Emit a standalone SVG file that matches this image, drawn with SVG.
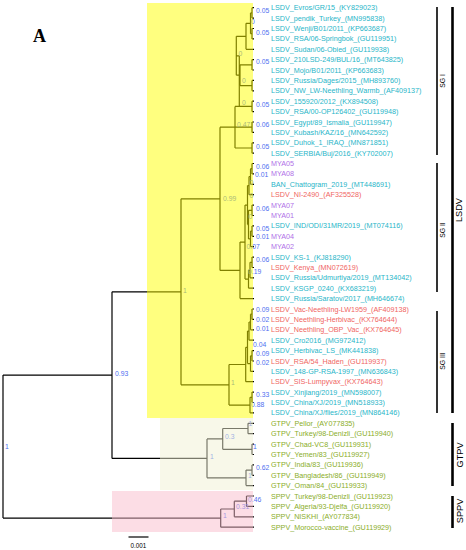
<svg xmlns="http://www.w3.org/2000/svg" width="466" height="550" viewBox="0 0 466 550">
<style>
text{font-family:"Liberation Sans",Arial,sans-serif}
.br{fill:none;stroke:#000;stroke-width:1.2}
.bs{font-size:6.8px;fill:#4f6ff0}
.lf{font-size:7.2px}
.c{fill:#27b5c8}.r{fill:#f0655f}.p{fill:#b070e8}.g{fill:#8aad28}
.bar{stroke:#000}
.cl{font-size:6.8px;fill:#000}
.cb{font-size:9.2px;fill:#000}
</style>
<rect width="466" height="550" fill="#fff"/>
<text x="33" y="42" font-weight="bold" font-size="18" style="font-family:'Liberation Serif',serif">A</text>
<g id="connectors">
<path class="br" d="M3 375.1V518.1M3 375.1H112M3 518.1H220.7
M112 291.8V458.4M112 291.8H181M112 458.4H207
M181 198.8V384.8M181 198.8H220M181 384.8H229
M220 127.2V270.4M220 127.2H235M220 270.4H240
M235 106.4V148M235 106.4H252M235 127.2H252M235 148H252
M239.3 55.8V106.4M236.3 55.8H239.3
M236.3 36.3V75.2M236.3 36.3H246M236.3 75.2H240
M240 64.8V85.6M240 64.8H252M240 85.6H252
M246 23.3V49.3M246 23.3H250.5M246 49.3H254
M250.5 12.9V33.7M250.5 12.9H252M250.5 33.7H252
M252 7.7V18.1M252 7.7H254M252 18.1H254
M252 28.5V38.9M252 28.5H254M252 38.9H254
M252 59.6V70M252 59.6H254M252 70H254
M252 80.4V90.8M252 80.4H254M252 90.8H254
M252 101.2V111.6M252 101.2H254M252 111.6H254
M252 122V132.4M252 122H254M252 132.4H254
M252 142.8V153.2M252 142.8H254M252 153.2H254
M240 242.1V298.6M240 242.1H245M240 298.6H254
M245 205.1V279.1M245 205.1H247.5M245 279.1H248.5
M247.5 185.6V224.6M247.5 185.6H249M247.5 224.6H248.5
M249 176.5V194.7M249 176.5H250.5M249 194.7H254
M250.5 168.7V184.3M250.5 168.7H252M250.5 184.3H254
M252 163.5V173.9M252 163.5H254M252 173.9H254
M248.5 210.3V238.9M248.5 210.3H252M248.5 238.9H250.5
M252 205.1V215.5M252 205.1H254M252 215.5H254
M250.5 231.1V246.7M250.5 231.1H252M250.5 246.7H254
M252 225.9V236.3M252 225.9H254M252 236.3H254
M248.5 270.05V288.2M248.5 270.05H250M248.5 288.2H254
M250 262.3V277.8M250 262.3H252M250 277.8H254
M252 257.1V267.5M252 257.1H254M252 267.5H254
M229 364.5V405.1M229 364.5H245.7M229 405.1H250
M245.7 347.35V381.7M245.7 347.35H247.5M245.7 381.7H254
M247.5 331.1V363.6M247.5 331.1H249M247.5 363.6H250.5
M249 322V340.2M249 322H250.5M249 340.2H254
M250.5 314.2V329.8M250.5 314.2H252M250.5 329.8H254
M252 309V319.4M252 309H254M252 319.4H254
M250.5 355.8V371.4M250.5 355.8H252M250.5 371.4H254
M252 350.6V361M252 350.6H254M252 361H254
M250 397.3V412.9M250 397.3H252M250 412.9H254
M252 392.1V402.5M252 392.1H254M252 402.5H254
M207 438.9V477.85M207 438.9H222.7M207 477.85H246
M222.7 428.5V449.3M222.7 428.5H248M222.7 449.3H252
M248 423.3V433.7M248 423.3H254M248 433.7H254
M252 444.1V454.5M252 444.1H254M252 454.5H254
M246 470.1V485.6M246 470.1H252M246 485.6H254
M252 464.9V475.3M252 464.9H254M252 475.3H254
M220.7 509V527.2M220.7 509H234.3M220.7 527.2H254
M234.3 501.2V516.8M234.3 501.2H246.5M234.3 516.8H254
M246.5 496V506.4M246.5 496H254M246.5 506.4H254"/>
</g>
<g id="support-values" class="bs">
<g id="n-root"><text x="5" y="448.5" class="bs">1</text></g>
<g id="n-093"><text x="115" y="375.5" class="bs">0.93</text></g>
<g id="n-lsdv"><text x="183" y="292.5" class="bs">1</text></g>
<g id="n-099"><text x="223" y="201" class="bs">0.99</text></g>
<g id="n-047"><text x="237" y="127" class="bs">0.47</text></g>
<g id="n-sg1a"><text x="238.5" y="55.5" class="bs">0</text></g>
<g id="n-sg1b"><text x="242" y="82.5" class="bs">0</text></g>
<g id="n-sg1c"><text x="242" y="104.5" class="bs">0</text></g>
<g id="n-sg1d"><text x="251" y="23.5" class="bs">0</text></g>
<g id="n-sg1e"><text x="256" y="13.4" class="bs">0.05</text></g>
<g id="n-sg1f"><text x="256" y="34.7" class="bs">0.05</text></g>
<g id="n-sg1g"><text x="256" y="64.4" class="bs">0.05</text></g>
<g id="n-sg1h"><text x="256" y="106.7" class="bs">0.05</text></g>
<g id="n-sg1i"><text x="256" y="127.4" class="bs">0.06</text></g>
<g id="n-sg1j"><text x="256" y="149.1" class="bs">0.05</text></g>
<g id="n-sg2a"><text x="256" y="169.4" class="bs">0.06</text></g>
<g id="n-sg2b"><text x="255" y="177" class="bs">0.01</text></g>
<g id="n-sg2c"><text x="249.5" y="185.1" class="bs">0</text></g>
<g id="n-sg2d"><text x="249.5" y="198.4" class="bs">0</text></g>
<g id="n-sg2e"><text x="256" y="210.7" class="bs">0.06</text></g>
<g id="n-sg2f"><text x="248.5" y="219.1" class="bs">0</text></g>
<g id="n-sg2g"><text x="256" y="230.7" class="bs">0.05</text></g>
<g id="n-sg2h"><text x="256" y="239.1" class="bs">0.01</text></g>
<g id="n-sg2i"><text x="246.5" y="249.1" class="bs">0.07</text></g>
<g id="n-sg2j"><text x="256" y="262.4" class="bs">0.06</text></g>
<g id="n-sg2k"><text x="248" y="274.1" class="bs">0.19</text></g>
<g id="n-sg3a"><text x="256" y="312.4" class="bs">0.09</text></g>
<g id="n-sg3b"><text x="256" y="321.7" class="bs">0.02</text></g>
<g id="n-sg3c"><text x="256" y="331.4" class="bs">0.01</text></g>
<g id="n-sg3d"><text x="253" y="347.4" class="bs">0.04</text></g>
<g id="n-sg3e"><text x="256" y="355.7" class="bs">0.09</text></g>
<g id="n-sg3f"><text x="256" y="364.7" class="bs">0.02</text></g>
<g id="n-sg3"><text x="231" y="385.4" class="bs">1</text></g>
<g id="n-sg3g"><text x="256" y="397.4" class="bs">0.33</text></g>
<g id="n-sg3h"><text x="251" y="407.4" class="bs">0.88</text></g>
<g id="n-gt1"><text x="248.5" y="425.7" class="bs">1</text></g>
<g id="n-gt2"><text x="225" y="439.4" class="bs">0.3</text></g>
<g id="n-gt3"><text x="253" y="449.1" class="bs">1</text></g>
<g id="n-gt4"><text x="210" y="459.1" class="bs">1</text></g>
<g id="n-gt5"><text x="256" y="470.4" class="bs">0.62</text></g>
<g id="n-gt6"><text x="248" y="477.9" class="bs">1</text></g>
<g id="n-sp1"><text x="248" y="501.7" class="bs">0.46</text></g>
<g id="n-sp2"><text x="236" y="509.4" class="bs">0.31</text></g>
<g id="n-sp3"><text x="223" y="517.9" class="bs">1</text></g>
</g>
<g id="clade-shading">
<rect id="shade-lsdv" x="147" y="3" width="106" height="415" fill="#ffff00" fill-opacity="0.5"/>
<rect id="shade-gtpv" x="160" y="418" width="93" height="72" fill="#f2f2d4" fill-opacity="0.5"/>
<rect id="shade-sppv" x="112" y="491" width="141" height="41" fill="#fabccb" fill-opacity="0.5"/>
</g>
<g id="leaves" class="lf">
<g id="leaf-01"><text x="271" y="10.2" class="lf c">LSDV_Evros/GR/15_(KY829023)</text></g>
<g id="leaf-02"><text x="271" y="20.6" class="lf c">LSDV_pendik_Turkey_(MN995838)</text></g>
<g id="leaf-03"><text x="271" y="31" class="lf c">LSDV_Wenji/B01/2011_(KP663687)</text></g>
<g id="leaf-04"><text x="271" y="41.4" class="lf c">LSDV_RSA/06-Springbok_(GU119951)</text></g>
<g id="leaf-05"><text x="271" y="51.8" class="lf c">LSDV_Sudan/06-Obied_(GU119938)</text></g>
<g id="leaf-06"><text x="271" y="62.1" class="lf c">LSDV_210LSD-249/BUL/16_(MT643825)</text></g>
<g id="leaf-07"><text x="271" y="72.5" class="lf c">LSDV_Mojo/B01/2011_(KP663683)</text></g>
<g id="leaf-08"><text x="271" y="82.9" class="lf c">LSDV_Russia/Dages/2015_(MH893760)</text></g>
<g id="leaf-09"><text x="271" y="93.3" class="lf c">LSDV_NW_LW-Neethling_Warmb_(AF409137)</text></g>
<g id="leaf-10"><text x="271" y="103.7" class="lf c">LSDV_155920/2012_(KX894508)</text></g>
<g id="leaf-11"><text x="271" y="114.1" class="lf c">LSDV_RSA/00-OP126402_(GU119948)</text></g>
<g id="leaf-12"><text x="271" y="124.5" class="lf c">LSDV_Egypt/89_Ismalia_(GU119947)</text></g>
<g id="leaf-13"><text x="271" y="134.9" class="lf c">LSDV_Kubash/KAZ/16_(MN642592)</text></g>
<g id="leaf-14"><text x="271" y="145.3" class="lf c">LSDV_Duhok_1_IRAQ_(MN871851)</text></g>
<g id="leaf-15"><text x="271" y="155.7" class="lf c">LSDV_SERBIA/Buj/2016_(KY702007)</text></g>
<g id="leaf-16"><text x="271" y="166" class="lf p">MYA05</text></g>
<g id="leaf-17"><text x="271" y="176.4" class="lf p">MYA08</text></g>
<g id="leaf-18"><text x="271" y="186.8" class="lf c">BAN_Chattogram_2019_(MT448691)</text></g>
<g id="leaf-19"><text x="271" y="197.2" class="lf r">LSDV_NI-2490_(AF325528)</text></g>
<g id="leaf-20"><text x="271" y="207.6" class="lf p">MYA07</text></g>
<g id="leaf-21"><text x="271" y="218" class="lf p">MYA01</text></g>
<g id="leaf-22"><text x="271" y="228.4" class="lf c">LSDV_IND/ODI/31MR/2019_(MT074116)</text></g>
<g id="leaf-23"><text x="271" y="238.8" class="lf p">MYA04</text></g>
<g id="leaf-24"><text x="271" y="249.2" class="lf p">MYA02</text></g>
<g id="leaf-25"><text x="271" y="259.6" class="lf c">LSDV_KS-1_(KJ818290)</text></g>
<g id="leaf-26"><text x="271" y="270" class="lf r">LSDV_Kenya_(MN072619)</text></g>
<g id="leaf-27"><text x="271" y="280.3" class="lf c">LSDV_Russia/Udmurtiya/2019_(MT134042)</text></g>
<g id="leaf-28"><text x="271" y="290.7" class="lf c">LSDV_KSGP_0240_(KX683219)</text></g>
<g id="leaf-29"><text x="271" y="301.1" class="lf c">LSDV_Russia/Saratov/2017_(MH646674)</text></g>
<g id="leaf-30"><text x="271" y="311.5" class="lf r">LSDV_Vac-Neethling-LW1959_(AF409138)</text></g>
<g id="leaf-31"><text x="271" y="321.9" class="lf r">LSDV_Neethling-Herbivac_(KX764644)</text></g>
<g id="leaf-32"><text x="271" y="332.3" class="lf r">LSDV_Neethling_OBP_Vac_(KX764645)</text></g>
<g id="leaf-33"><text x="271" y="342.7" class="lf c">LSDV_Cro2016_(MG972412)</text></g>
<g id="leaf-34"><text x="271" y="353.1" class="lf c">LSDV_Herbivac_LS_(MK441838)</text></g>
<g id="leaf-35"><text x="271" y="363.5" class="lf r">LSDV_RSA/54_Haden_(GU119937)</text></g>
<g id="leaf-36"><text x="271" y="373.9" class="lf c">LSDV_148-GP-RSA-1997_(MN636843)</text></g>
<g id="leaf-37"><text x="271" y="384.2" class="lf r">LSDV_SIS-Lumpyvax_(KX764643)</text></g>
<g id="leaf-38"><text x="271" y="394.6" class="lf c">LSDV_Xinjiang/2019_(MN598007)</text></g>
<g id="leaf-39"><text x="271" y="405" class="lf c">LSDV_China/XJ/2019_(MN518933)</text></g>
<g id="leaf-40"><text x="271" y="415.4" class="lf c">LSDV_China/XJ/flies/2019_(MN864146)</text></g>
<g id="leaf-41"><text x="271" y="425.8" class="lf g">GTPV_Pellor_(AY077835)</text></g>
<g id="leaf-42"><text x="271" y="436.2" class="lf g">GTPV_Turkey/98-Denizli_(GU119940)</text></g>
<g id="leaf-43"><text x="271" y="446.6" class="lf g">GTPV_Chad-VC8_(GU119931)</text></g>
<g id="leaf-44"><text x="271" y="457" class="lf g">GTPV_Yemen/83_(GU119927)</text></g>
<g id="leaf-45"><text x="271" y="467.4" class="lf g">GTPV_India/83_(GU119936)</text></g>
<g id="leaf-46"><text x="271" y="477.8" class="lf g">GTPV_Bangladesh/86_(GU119949)</text></g>
<g id="leaf-47"><text x="271" y="488.1" class="lf g">GTPV_Oman/84_(GU119933)</text></g>
<g id="leaf-48"><text x="271" y="498.5" class="lf g">SPPV_Turkey/98-Denizli_(GU119923)</text></g>
<g id="leaf-49"><text x="271" y="508.9" class="lf g">SPPV_Algeria/93-Djelfa_(GU119920)</text></g>
<g id="leaf-50"><text x="271" y="519.3" class="lf g">SPPV_NISKHI_(AY077834)</text></g>
<g id="leaf-51"><text x="271" y="529.7" class="lf g">SPPV_Morocco-vaccine_(GU119929)</text></g>
</g>
<g id="clade-bars">
<g id="bar-sg1"><line class="bar" x1="437" y1="7" x2="437" y2="155" stroke-width="1.6"/><text class="cl" font-family="Liberation Sans, Arial, sans-serif" text-anchor="middle" transform="translate(445 81) rotate(-90)">SG I</text></g>
<g id="bar-sg2"><line class="bar" x1="437" y1="163" x2="437" y2="292" stroke-width="1.6"/><text class="cl" font-family="Liberation Sans, Arial, sans-serif" text-anchor="middle" transform="translate(445 230) rotate(-90)">SG II</text></g>
<g id="bar-sg3"><line class="bar" x1="437" y1="311" x2="437" y2="413" stroke-width="1.6"/><text class="cl" font-family="Liberation Sans, Arial, sans-serif" text-anchor="middle" transform="translate(445 361) rotate(-90)">SG III</text></g>
<g id="bar-lsdv"><line class="bar" x1="452.5" y1="7" x2="452.5" y2="413" stroke-width="2.6"/><text class="cb" font-family="Liberation Sans, Arial, sans-serif" text-anchor="middle" transform="translate(462 210) rotate(-90)">LSDV</text></g>
<g id="bar-gtpv"><line class="bar" x1="452.5" y1="423" x2="452.5" y2="486" stroke-width="2.6"/><text class="cb" font-family="Liberation Sans, Arial, sans-serif" text-anchor="middle" transform="translate(463 455) rotate(-90)">GTPV</text></g>
<g id="bar-sppv"><line class="bar" x1="452.5" y1="496" x2="452.5" y2="528" stroke-width="2.6"/><text class="cb" font-family="Liberation Sans, Arial, sans-serif" text-anchor="middle" transform="translate(463 511) rotate(-90)">SPPV</text></g>
</g>
<g id="scale-bar">
<line x1="128.5" y1="537" x2="148.5" y2="537" stroke="#000" stroke-width="1.2"/>
<text x="138.5" y="547.5" font-size="6.3" text-anchor="middle" fill="#000">0.001</text>
</g>
</svg>
